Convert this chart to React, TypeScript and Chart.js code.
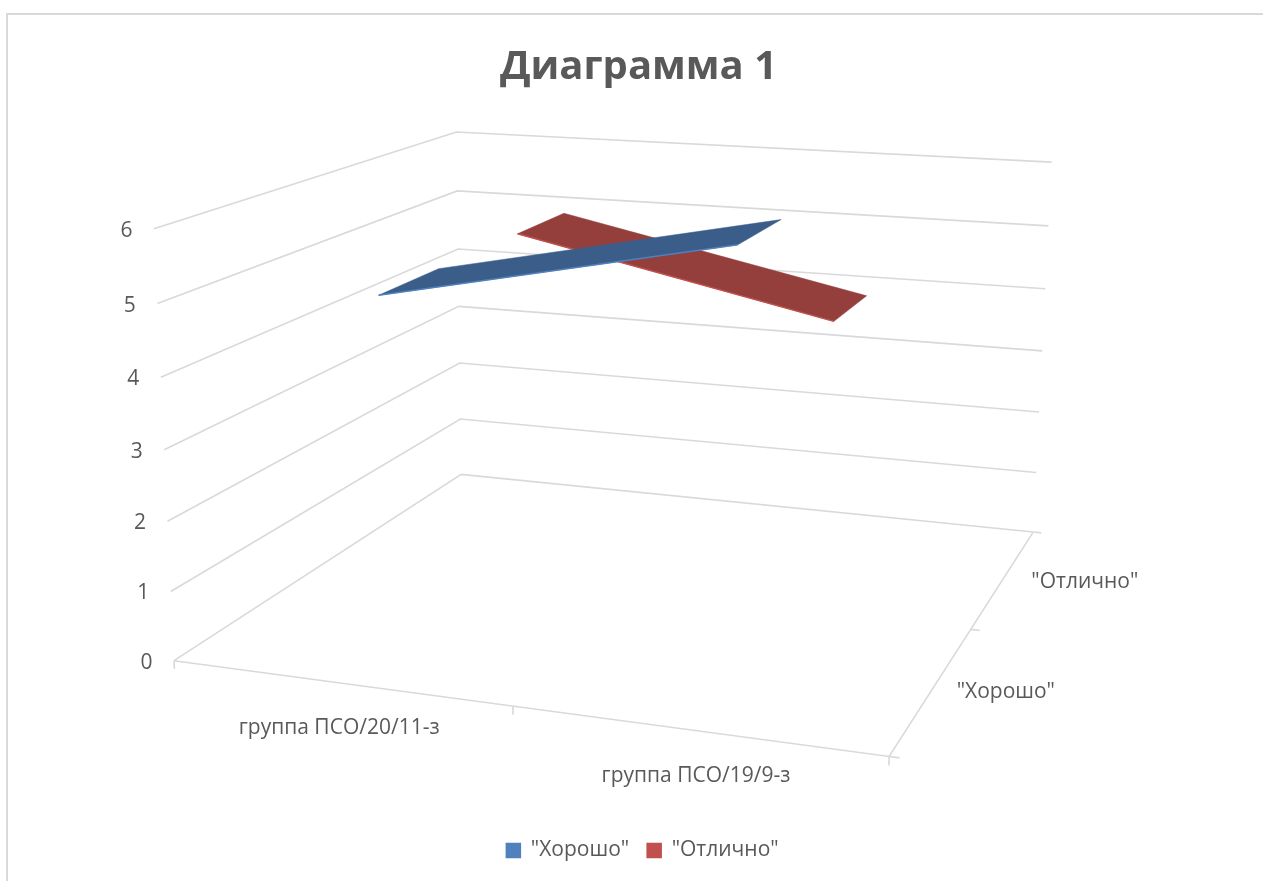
import React, { useEffect, useRef } from "react";
import { Chart, registerables } from "chart.js";

Chart.register(...registerables);

const categories = ["группа ПСО/20/11-з", "группа ПСО/19/9-з"];
const seriesNames = ['"Хорошо"', '"Отлично"'];
const khoroshoValues = [5, 6];
const otlichnoValues = [5, 4];
const valueTicks = [0, 1, 2, 3, 4, 5, 6];
const valueMax = 6;

const FONT = '"Open Sans", sans-serif';
const GRID = "#d9d9d9";
const TEXT = "#595959";

// camera calibration: cube position (u, v, w) -> where it lands in the picture
const calibration: number[][] = [
  [0, 0, 0, 174, 660], [1, 0, 0, 889, 756], [0, 1, 0, 461, 475], [1, 1, 0, 1033, 532],
  [0, 0, 1, 153, 230], [0, 1, 1, 457, 132], [1, 1, 1, 1052, 162],
  [0, 0, 0.5, 163, 448], [0, 1, 0.5, 458, 306], [1, 1, 0.5, 1043, 351],
  [0.5, 0, 0, 513, 708], [1, 0.5, 0, 972, 629],
];

function solveCamera(): number[] {
  const rows: number[][] = [];
  const rhs: number[] = [];
  for (const [u, v, w, x, y] of calibration) {
    rows.push([u, v, w, 1, 0, 0, 0, 0, -x * u, -x * v, -x * w]);
    rhs.push(x);
    rows.push([0, 0, 0, 0, u, v, w, 1, -y * u, -y * v, -y * w]);
    rhs.push(y);
  }
  const n = 11;
  const m: number[][] = Array.from({ length: n }, () => new Array(n + 1).fill(0));
  rows.forEach((r, k) => {
    for (let i = 0; i < n; i++) {
      for (let j = 0; j < n; j++) m[i][j] += r[i] * r[j];
      m[i][n] += r[i] * rhs[k];
    }
  });
  for (let c = 0; c < n; c++) {
    let p = c;
    for (let r = c + 1; r < n; r++) if (Math.abs(m[r][c]) > Math.abs(m[p][c])) p = r;
    [m[c], m[p]] = [m[p], m[c]];
    for (let r = 0; r < n; r++) {
      if (r === c) continue;
      const f = m[r][c] / m[c][c];
      for (let j = c; j <= n; j++) m[r][j] -= f * m[c][j];
    }
  }
  return m.map((row, i) => row[n] / row[i]);
}

const cam = solveCamera();
function project(u: number, v: number, w: number) {
  const d = cam[8] * u + cam[9] * v + cam[10] * w + 1;
  return {
    x: (cam[0] * u + cam[1] * v + cam[2] * w + cam[3]) / d,
    y: (cam[4] * u + cam[5] * v + cam[6] * w + cam[7]) / d,
  };
}

const lineSet = (data: { x: number; y: number }[], color = GRID, width = 1.6) => ({
  label: "",
  data,
  showLine: true,
  borderColor: color,
  backgroundColor: color,
  borderWidth: width,
  pointRadius: 0,
  fill: false,
  clip: false as const,
});

const RIBBON_HALF = 0.1;
function ribbon(values: number[], seriesIndex: number, top: string, edge: string, name: string) {
  const vc = (seriesIndex + 0.5) / seriesNames.length;
  const level = (val: number) => val / valueMax;
  const ui = (i: number) => (i + 0.5) / categories.length;
  const front = values.map((val, i) => project(ui(i), vc - RIBBON_HALF, level(val)));
  const back = values.map((val, i) => project(ui(i), vc + RIBBON_HALF, level(val)));
  const poly = [...front, ...back.slice().reverse(), front[0]];
  return [
    { ...lineSet(front, edge, 1.5), label: name, backgroundColor: edge },
    {
      ...lineSet(poly, top, 0.5),
      backgroundColor: top,
      fill: "shape",
    },
  ];
}

function gridSets() {
  const sets: any[] = [];
  for (const t of valueTicks) {
    const w = t / valueMax;
    sets.push(lineSet([project(0, 0, w), project(0, 1, w), project(1, 1, w)]));
  }
  sets.push(lineSet([project(0, 0, 0), project(1, 0, 0), project(1, 1, 0)]));
  for (let i = 0; i <= categories.length; i++) {
    const u = i / categories.length;
    sets.push(lineSet([project(u, 0, 0), project(u, 0, -0.02)]));
  }
  for (let i = 0; i <= seriesNames.length; i++) {
    const v = i / seriesNames.length;
    sets.push(lineSet([project(1, v, 0), project(1.013, v, 0)]));
  }
  return sets;
}

const axisText = {
  id: "axisText",
  afterDraw(chart: any) {
    const { ctx, scales } = chart;
    const put = (text: string, p: { x: number; y: number }, dx: number, dy: number) =>
      ctx.fillText(text, scales.x.getPixelForValue(p.x) + dx, scales.y.getPixelForValue(p.y) + dy);
    ctx.save();
    ctx.font = `21px ${FONT}`;
    ctx.fillStyle = TEXT;
    ctx.textAlign = "center";
    ctx.textBaseline = "middle";
    valueTicks.forEach((t) => put(String(t), project(0, 0, t / valueMax), -27.5, 2));
    categories.forEach((c, i) => put(c, project((i + 0.5) / categories.length, 0, 0), 0, 45));
    seriesNames.forEach((s, i) => put(s, project(1, (i + 0.5) / seriesNames.length, 0), 73 + 8 * i, 4));
    ctx.restore();
  },
};

const shiftBoxes = {
  id: "shiftBoxes",
  afterLayout(chart: any) {
    chart.titleBlock.left += 7;
    chart.titleBlock.right += 7;
    chart.titleBlock.top += 2;
    chart.titleBlock.bottom += 2;
    chart.legend.left += 11;
    chart.legend.right += 11;
    chart.legend.top -= 10;
    chart.legend.bottom -= 10;
  },
};

export default function App() {
  const ref = useRef<HTMLCanvasElement>(null);
  useEffect(() => {
    const chart: any = new Chart(ref.current as HTMLCanvasElement, {
      type: "scatter",
      plugins: [axisText, shiftBoxes],
      data: {
        datasets: [
          ...ribbon(khoroshoValues, 0, "#3a5d8a", "#4f81bd", seriesNames[0]),
          ...ribbon(otlichnoValues, 1, "#953f3d", "#c0504d", seriesNames[1]),
          ...gridSets(),
        ] as any,
      },
      options: {
        animation: false,
        responsive: false,
        layout: { padding: 0 },
        scales: {
          x: { type: "linear", display: false, min: 0, max: 1263 },
          y: { type: "linear", display: false, reverse: true, min: 0, max: 881 },
        },
        plugins: {
          tooltip: { enabled: false },
          title: {
            display: true,
            text: "Диаграмма 1",
            color: TEXT,
            font: { family: FONT, size: 40, weight: "bold" },
            padding: { top: 42, bottom: 10 },
          },
          legend: {
            display: true,
            position: "bottom",
            labels: {
              filter: (item: any) => !!item.text,
              boxWidth: 14,
              boxHeight: 14,
              color: TEXT,
              font: { family: FONT, size: 21 },
              padding: 18,
            },
          },
        },
      } as any,
    });
    const a = chart.chartArea;
    chart.options.scales.x.min = a.left;
    chart.options.scales.x.max = a.right;
    chart.options.scales.y.min = a.top;
    chart.options.scales.y.max = a.bottom;
    chart.update();
    return () => chart.destroy();
  }, []);
  return (
    <div style={{ position: "fixed", left: 0, top: 0, width: 1263, height: 881, background: "#fff", overflow: "hidden" }}>
      <div
        style={{
          position: "absolute",
          left: 6,
          top: 13,
          right: 0,
          bottom: 0,
          borderTop: `2px solid ${GRID}`,
          borderLeft: `2px solid ${GRID}`,
        }}
      />
      <canvas ref={ref} width={1263} height={881} style={{ position: "absolute", left: 0, top: 0, width: 1263, height: 881 }} />
    </div>
  );
}
